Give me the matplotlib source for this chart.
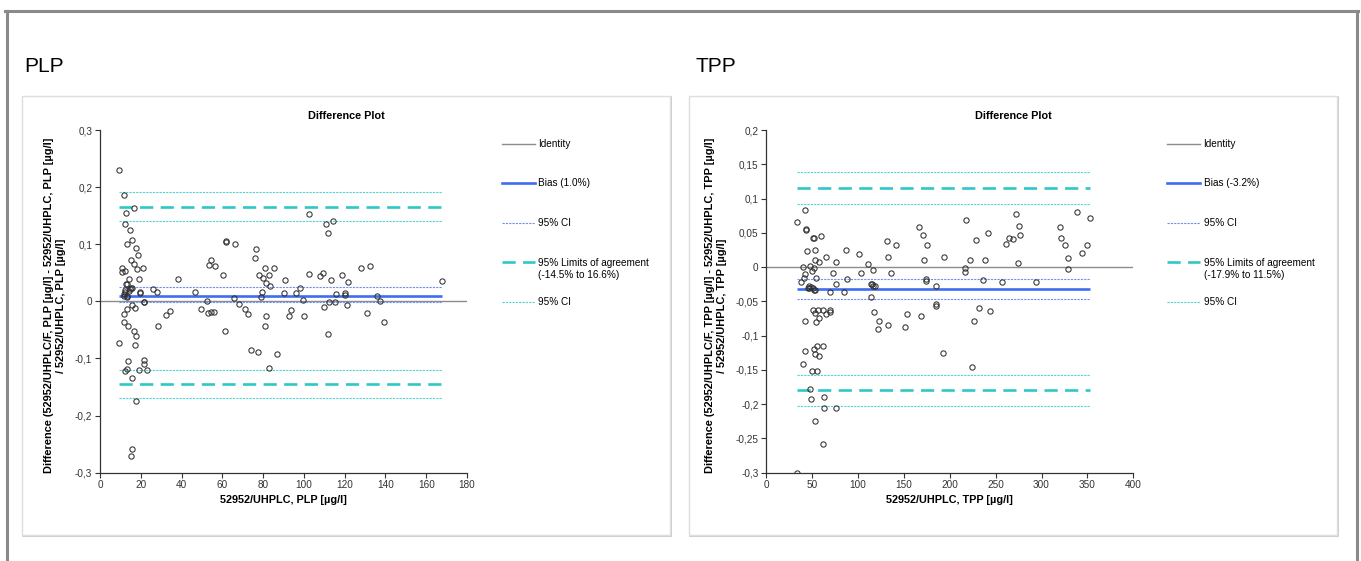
import numpy as np
import matplotlib
matplotlib.use("Agg")
from matplotlib import pyplot as plt
from matplotlib.patches import Rectangle
from matplotlib.lines import Line2D
from matplotlib.ticker import FuncFormatter, MultipleLocator

plt.rcParams['font.family'] = ['Liberation Sans', 'DejaVu Sans']

# PLP: mean (x) and relative difference (y)
plp_x = [9.2, 11.8, 12.8, 12.3, 16.9, 14.6, 13.4, 15.7, 17.7, 18.5, 15.1, 16.7, 18.0, 20.9,
         11.0, 10.6, 12.4, 14.4, 19.1, 12.9, 15.4, 14.4, 12.4, 11.8, 13.1, 19.8, 26.0, 27.8,
         21.6, 15.5, 17.3, 13.3, 11.9, 11.8, 13.6, 16.5, 17.5, 17.3, 9.5, 28.5, 32.6, 34.5,
         13.6, 13.4, 12.4, 19.3, 21.6, 21.8, 23.2, 15.9, 17.7, 15.7, 15.2, 38.1, 46.8, 49.4,
         52.7, 53.3, 54.6, 56.6, 53.0, 54.3, 56.0, 60.5, 61.1, 61.9, 62.0, 66.3, 65.6, 68.2,
         70.9, 72.8, 74.3, 77.4, 75.9, 76.7, 78.2, 78.9, 79.4, 80.0, 80.7, 81.2, 81.2, 81.0,
         82.9, 83.6, 83.1, 85.1, 86.7, 90.0, 90.5, 92.6, 93.8, 95.9, 97.9, 99.7, 100.1, 102.3,
         102.4, 107.9, 109.4, 109.8, 110.6, 111.6, 111.6, 112.1, 113.2, 114.3, 115.2, 115.7,
         118.6, 120.1, 120.3, 121.1, 121.6, 128.1, 131.1, 132.2, 136.0, 137.5, 139.1, 167.6,
         13.4, 12.4, 14.6, 15.6, 11.9, 13.4, 19.6, 21.4]
plp_y = [0.230, 0.187, 0.155, 0.136, 0.164, 0.125, 0.100, 0.107, 0.094, 0.082, 0.073, 0.066,
         0.056, 0.058, 0.059, 0.052, 0.054, 0.039, 0.039, 0.030, 0.023, 0.018, 0.017, 0.012,
         0.009, 0.016, 0.021, 0.016, -0.001, -0.006, -0.012, -0.014, -0.023, -0.037, -0.043,
         -0.052, -0.061, -0.077, -0.073, -0.044, -0.024, -0.017, -0.105, -0.119, -0.122,
         -0.120, -0.102, -0.110, -0.120, -0.134, -0.175, -0.259, -0.271, 0.040, 0.017, -0.014,
         0.001, 0.064, 0.072, 0.062, -0.021, -0.019, -0.018, 0.046, -0.052, 0.106, 0.104,
         0.101, 0.006, -0.005, -0.013, -0.022, -0.086, -0.088, 0.076, 0.092, 0.046, 0.007,
         0.016, 0.041, 0.059, 0.033, -0.026, -0.043, 0.046, 0.027, -0.116, 0.059, -0.092,
         0.014, 0.038, -0.026, -0.016, 0.015, 0.023, 0.002, -0.026, 0.153, 0.048, 0.045,
         0.049, -0.010, 0.136, 0.119, -0.058, -0.001, 0.037, 0.141, -0.001, 0.013, 0.047,
         0.014, 0.011, -0.007, 0.034, 0.058, -0.020, 0.062, 0.009, 0.001, -0.037, 0.035,
         0.031, 0.020, 0.021, 0.023, 0.010, 0.008, 0.015, -0.002]

# TPP
tpp_x = [33.4, 42.5, 43.2, 43.6, 44.7, 51.6, 51.2, 52.7, 59.2, 52.7, 57.4, 64.7, 37.4, 39.9,
         42.5, 40.7, 48.0, 49.4, 52.0, 53.8, 45.0, 46.1, 46.5, 48.7, 50.9, 52.3, 53.4, 76.0,
         87.2, 100.7, 110.5, 116.7, 132.6, 131.6, 141.0, 135.6, 103.5, 114.4, 118.5, 113.8,
         166.1, 170.8, 175.5, 171.6, 173.7, 173.7, 184.6, 184.6, 184.6, 193.7, 192.6, 168.9,
         153.7, 151.5, 132.3, 122.1, 122.8, 117.7, 72.4, 76.3, 69.4, 84.7, 87.6, 50.6, 53.4,
         56.3, 62.1, 64.7, 69.4, 69.4, 57.8, 53.8, 42.5, 42.5, 40.3, 52.0, 55.6, 62.1, 53.4,
         57.8, 49.5, 54.9, 47.6, 48.4, 62.6, 63.2, 76.0, 52.7, 61.5, 33.8, 217.3, 217.0,
         217.0, 222.3, 228.2, 241.2, 238.3, 236.1, 231.4, 226.7, 244.1, 224.3, 256.9, 260.9,
         264.1, 268.5, 272.1, 275.7, 276.8, 274.7, 293.5, 320.1, 320.8, 325.5, 328.8, 328.8,
         338.6, 344.4, 349.5, 352.4, 116.6, 114.8]
tpp_y = [0.066, 0.083, 0.054, 0.056, 0.023, 0.042, 0.043, 0.025, 0.046, 0.011, 0.008, 0.015,
         -0.022, 0.000, -0.010, -0.016, 0.001, -0.006, -0.001, -0.016, -0.030, -0.028, -0.031,
         -0.029, -0.030, -0.033, -0.033, 0.008, 0.025, 0.019, 0.004, -0.004, 0.014, 0.038,
         0.032, -0.008, -0.008, -0.025, -0.027, -0.043, 0.059, 0.047, 0.032, 0.010, -0.018,
         -0.021, -0.028, -0.054, -0.057, 0.015, -0.125, -0.071, -0.069, -0.088, -0.084,
         -0.090, -0.079, -0.065, -0.008, -0.024, -0.037, -0.037, -0.018, -0.063, -0.067,
         -0.063, -0.062, -0.069, -0.062, -0.065, -0.074, -0.080, -0.079, -0.123, -0.142,
         -0.119, -0.115, -0.115, -0.127, -0.130, -0.151, -0.151, -0.178, -0.193, -0.190,
         -0.206, -0.205, -0.225, -0.258, -0.300, 0.069, -0.002, -0.007, 0.011, 0.040, 0.050,
         0.011, -0.019, -0.059, -0.078, -0.064, -0.146, -0.022, 0.033, 0.043, 0.041, 0.078,
         0.060, 0.047, 0.006, -0.022, 0.058, 0.043, 0.032, 0.013, -0.003, 0.081, 0.020,
         0.032, 0.071, -0.028, -0.024]

# bias, bias CI, limits of agreement and their CIs
plp_bias, plp_bias_ci = 0.010, (-0.002, 0.025)
plp_loa = (-0.145, 0.166)
plp_loa_ci = (-0.169, -0.121, 0.140, 0.191)
tpp_bias, tpp_bias_ci = -0.032, (-0.046, -0.018)
tpp_loa = (-0.179, 0.115)
tpp_loa_ci = (-0.203, -0.157, 0.092, 0.138)

W, H = 1361, 561
fig = plt.figure(figsize=(W / 100, H / 100), dpi=100)


def fx(px):
    return px / W


def fy(py):
    return 1 - py / H


# outer frame of the screenshot
frame_c = '#8a8a8a'
fig.add_artist(Line2D([fx(5), fx(1358)], [fy(11), fy(11)], color=frame_c, lw=2.2))
fig.add_artist(Line2D([fx(6.5), fx(6.5)], [fy(11), 0], color=frame_c, lw=2.2))
fig.add_artist(Line2D([fx(1357), fx(1357)], [fy(11), 0], color=frame_c, lw=2.2))

for x0 in [22, 689]:
    fig.add_artist(Rectangle((fx(x0 + 1), fy(536)), fx(648), 439 / H, facecolor='none',
                             edgecolor='#c4c4c4', lw=1.2, zorder=-2))
    fig.add_artist(Rectangle((fx(x0), fy(535)), fx(648), 439 / H, facecolor='white',
                             edgecolor='#dedede', lw=1.0, zorder=-1))

comma = FuncFormatter(lambda v, pos: f"{v:g}".replace('.', ','))

blue = '#3f6df2'
turq = '#2ec8c8'


def draw_panel(ax, x, y, bias, bias_ci, loa, loa_ci, name, xlim, ylim, xstep, ystep,
               leg_x, label_x):
    x = np.array(x)
    y = np.array(y)
    lo, hi = x.min(), x.max()
    ax.axhline(0, color='#8c8c8c', lw=1.0, zorder=1)
    ax.hlines(bias, lo, hi, color=blue, lw=1.9, zorder=2)
    for v in bias_ci:
        ax.hlines(v, lo, hi, color='#6f8ff5', lw=0.8, linestyles=(0, (2, 1)), zorder=2)
    for v in loa:
        ax.hlines(v, lo, hi, color=turq, lw=1.9, linestyles=(0, (5, 2.8)), zorder=2)
    for v in loa_ci:
        ax.hlines(v, lo, hi, color='#52d2d2', lw=0.8, linestyles=(0, (2, 1)), zorder=2)
    ax.plot(x, y, 'o', mfc='none', mec='#303030', ms=3.8, mew=0.75, zorder=3)

    ax.set_xlim(*xlim)
    ax.set_ylim(*ylim)
    ax.xaxis.set_major_locator(MultipleLocator(xstep))
    ax.yaxis.set_major_locator(MultipleLocator(ystep))
    ax.xaxis.set_major_formatter(comma)
    ax.yaxis.set_major_formatter(comma)
    for s in ['top', 'right']:
        ax.spines[s].set_visible(False)
    for s in ['left', 'bottom']:
        ax.spines[s].set_color('#333333')
        ax.spines[s].set_linewidth(0.9)
    ax.tick_params(labelsize=7.2, colors='#333333', length=3.5, width=0.8, pad=2)
    ax.set_facecolor('none')
    ax.set_xlabel(f"52952/UHPLC, {name} [µg/l]", fontsize=7.8, fontweight='bold',
                  labelpad=3)

    fig.text(label_x, 0.455,
             f"Difference (52952/UHPLC/F, {name} [µg/l] - 52952/UHPLC, {name} [µg/l]\n"
             f"/ 52952/UHPLC, {name} [µg/l]",
             rotation=90, ha='center', va='center', multialignment='center',
             fontsize=7.9, fontweight='bold', linespacing=1.3)

    handles = [
        Line2D([], [], color='#8c8c8c', lw=1.0),
        Line2D([], [], color=blue, lw=1.9),
        Line2D([], [], color='#6f8ff5', lw=0.8, ls=(0, (2, 1))),
        Line2D([], [], color=turq, lw=1.9, ls=(0, (5, 2.8))),
        Line2D([], [], color='#52d2d2', lw=0.8, ls=(0, (2, 1))),
    ]
    labels = ['Identity', f"Bias ({bias * 100:.1f}%)", '95% CI',
              '95% Limits of agreement', '95% CI']
    leg = ax.legend(handles, labels, loc='upper left', bbox_to_anchor=(leg_x, fy(139)),
                    bbox_transform=fig.transFigure, frameon=False, fontsize=7.2,
                    handlelength=3.3, handletextpad=0.35, labelspacing=2.95,
                    borderpad=0, borderaxespad=0)
    return leg


ax1 = fig.add_axes([fx(100), fy(472.7), fx(367), (472.7 - 130) / H])
leg1 = draw_panel(ax1, plp_x, plp_y, plp_bias, plp_bias_ci, plp_loa, plp_loa_ci, 'PLP',
                  (0, 180), (-0.3, 0.3), 20, 0.1, fx(502), fx(55))
ax2 = fig.add_axes([fx(766.3), fy(472.7), fx(367), (472.7 - 130) / H])
leg2 = draw_panel(ax2, tpp_x, tpp_y, tpp_bias, tpp_bias_ci, tpp_loa, tpp_loa_ci, 'TPP',
                  (0, 400), (-0.3, 0.2), 50, 0.05, fx(1167), fx(716))

fig.text(fx(24), fy(66), 'PLP', fontsize=15, va='center', ha='left')
fig.text(fx(696), fy(66), 'TPP', fontsize=15, va='center', ha='left')
fig.text(fx(346), fy(116), 'Difference Plot', fontsize=7.8, fontweight='bold',
         ha='center', va='center')
fig.text(fx(1013), fy(116), 'Difference Plot', fontsize=7.8, fontweight='bold',
         ha='center', va='center')

# second line of the limits-of-agreement legend entry
fig.canvas.draw()
renderer = fig.canvas.get_renderer()
for leg, loa in [(leg1, plp_loa), (leg2, tpp_loa)]:
    bb = leg.get_texts()[3].get_window_extent(renderer)
    px, py = fig.transFigure.inverted().transform((bb.x0, bb.y0 - 3))
    fig.text(px, py, f"({loa[0] * 100:.1f}% to {loa[1] * 100:.1f}%)", fontsize=7.2,
             ha='left', va='top')

fig.savefig('out.png', dpi=100, facecolor='white')
